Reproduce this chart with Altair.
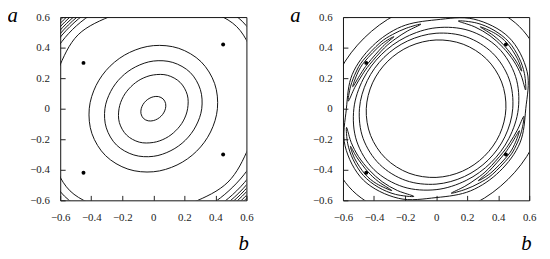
import math
import pandas as pd
import altair as alt

# ---------------- data ----------------
TICKS = [-0.6, -0.4, -0.2, 0, 0.2, 0.4, 0.6]

# marked points (b, a) - identical in both panels
DOT_B = [-0.45, 0.45, -0.45, 0.45]
DOT_A = [0.30, 0.42, -0.42, -0.30]

# polar angles (degrees) at which ring contours were read
ANG16 = [0, 22.5, 45, 67.5, 90, 112.5, 135, 157.5,
         180, 202.5, 225, 247.5, 270, 292.5, 315, 337.5]

# ---- left panel: contour radii at ANG16 ----
L1 = [0.078, 0.086, 0.090, 0.086, 0.078, 0.072, 0.070, 0.072,
      0.078, 0.086, 0.090, 0.086, 0.078, 0.072, 0.070, 0.072]
L2 = [0.221, 0.237, 0.244, 0.237, 0.221, 0.209, 0.204, 0.209,
      0.221, 0.237, 0.244, 0.237, 0.221, 0.209, 0.204, 0.209]
L3 = [0.312, 0.328, 0.336, 0.328, 0.312, 0.297, 0.292, 0.297,
      0.312, 0.328, 0.336, 0.328, 0.312, 0.297, 0.292, 0.297]
L4 = [0.413, 0.428, 0.435, 0.428, 0.413, 0.399, 0.394, 0.399,
      0.413, 0.428, 0.435, 0.428, 0.413, 0.399, 0.394, 0.399]
L5 = [0.690, 0.720, 0.760, 0.720, 0.690, 0.665, 0.685, 0.665,
      0.690, 0.720, 0.760, 0.720, 0.690, 0.665, 0.680, 0.665]
L6 = [0.760, 0.780, 0.810, 0.780, 0.760, 0.740, 0.735, 0.740,
      0.760, 0.780, 0.810, 0.780, 0.760, 0.735, 0.725, 0.735]
L7 = [0.800, 0.840, 0.870, 0.840, 0.800, 0.770, 0.760, 0.770,
      0.800, 0.840, 0.870, 0.840, 0.800, 0.770, 0.760, 0.770]
L8 = [0.815, 0.860, 0.890, 0.860, 0.815, 0.785, 0.775, 0.785,
      0.815, 0.860, 0.890, 0.860, 0.815, 0.790, 0.780, 0.790]
L9 = [0.830, 0.880, 0.910, 0.880, 0.830, 0.800, 0.790, 0.800,
      0.830, 0.880, 0.910, 0.880, 0.830, 0.805, 0.795, 0.805]
L10 = [0.845, 0.900, 0.930, 0.900, 0.845, 0.815, 0.805, 0.815,
       0.845, 0.900, 0.930, 0.900, 0.845, 0.820, 0.810, 0.820]
L11 = [0.860, 0.920, 0.950, 0.920, 0.860, 0.830, 0.820, 0.830,
       0.860, 0.920, 0.950, 0.920, 0.860, 0.835, 0.826, 0.835]
L12 = [0.875, 0.940, 0.970, 0.940, 0.875, 0.845, 0.835, 0.845,
       0.875, 0.940, 0.970, 0.940, 0.875, 0.850, 0.840, 0.850]

# ---- right panel: closed rings, radii at ANG16 ----
R1 = [0.450, 0.457, 0.460, 0.457, 0.450, 0.443, 0.440, 0.443,
      0.450, 0.457, 0.460, 0.457, 0.450, 0.443, 0.440, 0.443]
R2 = [0.494, 0.509, 0.515, 0.509, 0.494, 0.480, 0.475, 0.480,
      0.494, 0.509, 0.515, 0.509, 0.494, 0.480, 0.475, 0.480]
R3 = [0.530, 0.554, 0.565, 0.554, 0.530, 0.508, 0.500, 0.508,
      0.530, 0.554, 0.565, 0.554, 0.530, 0.508, 0.500, 0.508]
R4 = [0.578, 0.635, 0.662, 0.635, 0.582, 0.582, 0.580, 0.585,
      0.578, 0.635, 0.662, 0.635, 0.582, 0.582, 0.580, 0.585]
R5 = [0.702, 0.742, 0.760, 0.742, 0.702, 0.668, 0.655, 0.668,
      0.702, 0.742, 0.760, 0.742, 0.702, 0.668, 0.655, 0.668]

# ---- right panel: crescent-shaped closed contours (angle deg, radius) ----
UL_OUT_ANG = [100, 110, 120, 130, 146, 155, 165, 175, 165, 155, 146, 130, 120, 110]
UL_OUT_R = [0.562, 0.561, 0.561, 0.563, 0.567, 0.569, 0.570, 0.568,
            0.542, 0.525, 0.517, 0.519, 0.527, 0.541]
UL_IN_ANG = [120, 130, 146, 155, 165, 155, 146, 130]
UL_IN_R = [0.544, 0.549, 0.554, 0.557, 0.556, 0.537, 0.530, 0.533]

LR_OUT_ANG = [280, 290, 300, 310, 326, 335, 345, 355, 345, 335, 326, 310, 300, 290]
LR_OUT_R = [0.562, 0.561, 0.561, 0.563, 0.567, 0.569, 0.570, 0.568,
            0.542, 0.525, 0.517, 0.519, 0.527, 0.541]
LR_IN_ANG = [300, 310, 326, 335, 345, 335, 326, 310]
LR_IN_R = [0.544, 0.549, 0.554, 0.557, 0.556, 0.537, 0.530, 0.533]

UR_OUT_ANG = [12, 22, 32, 43, 54, 65, 76, 65, 54, 43, 32, 22]
UR_OUT_R = [0.590, 0.614, 0.630, 0.641, 0.635, 0.619, 0.592,
            0.591, 0.591, 0.589, 0.590, 0.590]
UR_IN_ANG = [24, 32, 43, 52, 62, 52, 43, 32]
UR_IN_R = [0.604, 0.618, 0.627, 0.623, 0.607, 0.605, 0.603, 0.602]

LL_OUT_ANG = [192, 202, 212, 223, 234, 245, 256, 245, 234, 223, 212, 202]
LL_OUT_R = [0.590, 0.614, 0.630, 0.641, 0.635, 0.619, 0.592,
            0.591, 0.591, 0.589, 0.590, 0.590]
LL_IN_ANG = [204, 212, 223, 232, 242, 232, 223, 212]
LL_IN_R = [0.604, 0.618, 0.627, 0.623, 0.607, 0.605, 0.603, 0.602]

LEFT_CONTOURS = [("L1", ANG16, L1), ("L2", ANG16, L2), ("L3", ANG16, L3),
                 ("L4", ANG16, L4), ("L5", ANG16, L5), ("L6", ANG16, L6),
                 ("L7", ANG16, L7), ("L8", ANG16, L8), ("L9", ANG16, L9),
                 ("L10", ANG16, L10), ("L11", ANG16, L11), ("L12", ANG16, L12)]
RIGHT_CONTOURS = [("R1", ANG16, R1), ("R2", ANG16, R2), ("R3", ANG16, R3),
                  ("R4", ANG16, R4), ("R5", ANG16, R5),
                  ("ULo", UL_OUT_ANG, UL_OUT_R), ("ULi", UL_IN_ANG, UL_IN_R),
                  ("LRo", LR_OUT_ANG, LR_OUT_R), ("LRi", LR_IN_ANG, LR_IN_R),
                  ("URo", UR_OUT_ANG, UR_OUT_R), ("URi", UR_IN_ANG, UR_IN_R),
                  ("LLo", LL_OUT_ANG, LL_OUT_R), ("LLi", LL_IN_ANG, LL_IN_R)]


def contour_table(contours):
    rows = []
    for name, angles, radii in contours:
        for i, (t, r) in enumerate(zip(angles, radii)):
            rad = math.radians(t)
            rows.append({"contour": name, "idx": i,
                         "b": r * math.cos(rad), "a": r * math.sin(rad)})
    return pd.DataFrame(rows)


dots = pd.DataFrame({"b": DOT_B, "a": DOT_A})

SERIF = "Liberation Serif"
LABEL_EXPR = "abs(datum.value) < 1e-9 ? '0' : format(datum.value, '.1f')"
W, H = 189, 186


def panel(contours):
    xscale = alt.Scale(domain=[-0.6, 0.6], nice=False, zero=False)
    yscale = alt.Scale(domain=[-0.6, 0.6], nice=False, zero=False)
    common = dict(values=TICKS, labelExpr=LABEL_EXPR, titleAngle=0,
                  titleBaseline="alphabetic", titleFont=SERIF,
                  titleFontStyle="italic", titleFontWeight="normal",
                  titleFontSize=21, titleColor="black", domain=False,
                  grid=False, tickSize=5, offset=-5, tickColor="#222",
                  labelPadding=11, labelFont=SERIF, labelFontSize=11,
                  labelColor="#222", labelFlush=False, labelOverlap=False,
                  labelBound=False, tickCount=7)
    xaxis = alt.Axis(title="b", titleX=191, titleY=55, titleAlign="right", **common)
    yaxis = alt.Axis(title="a", titleX=-59, titleY=4, titleAlign="left", **common)
    X = alt.X("b:Q", scale=xscale, axis=xaxis)
    Y = alt.Y("a:Q", scale=yscale, axis=yaxis)
    lines = alt.Chart(contour_table(contours)).mark_line(
        interpolate="cardinal-closed", clip=True, color="#111", strokeWidth=1
    ).encode(x=X, y=Y, detail="contour:N", order="idx:Q")
    pts = alt.Chart(dots).mark_circle(size=16, color="black", opacity=1).encode(
        x=X, y=Y)
    return alt.layer(lines, pts).properties(width=W, height=H)


chart = alt.hconcat(panel(LEFT_CONTOURS), panel(RIGHT_CONTOURS),
                    spacing=98, bounds="flush").properties(
    autosize=alt.AutoSizeParams(type="none"),
    padding={"left": 53, "top": 6, "right": 489, "bottom": 237},
).configure_view(stroke="#111", strokeWidth=1).configure_axis(
    labelOverlap=False, labelFont=SERIF, labelFontSize=11)

chart.save("out.html", embed_options={"renderer": "svg", "actions": False})
